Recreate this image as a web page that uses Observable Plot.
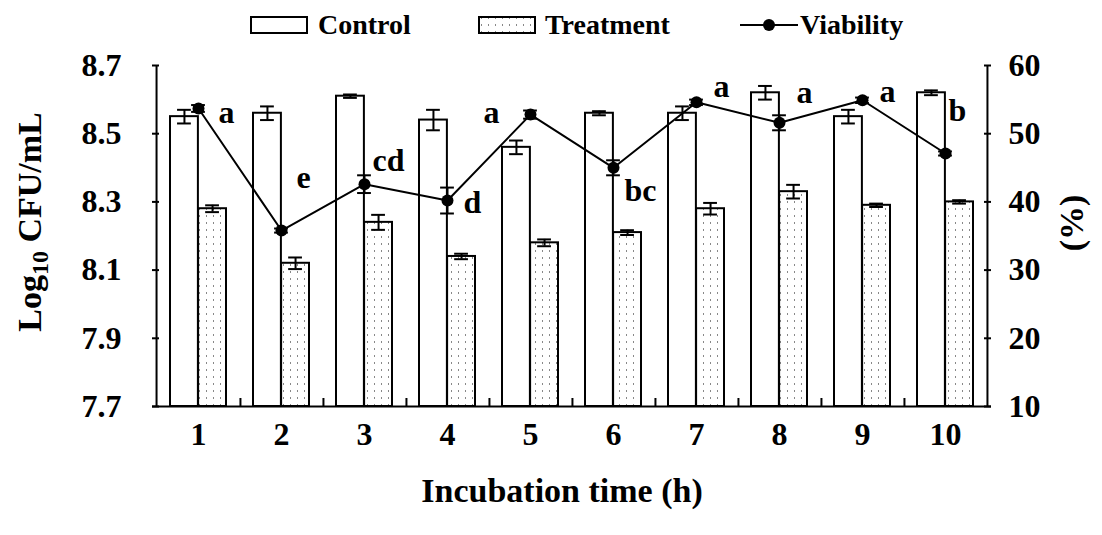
<!DOCTYPE html>
<html><head><meta charset="utf-8">
<script src="https://cdn.jsdelivr.net/npm/d3@7"></script>
<script src="https://cdn.jsdelivr.net/npm/@observablehq/plot@0.6"></script>
<style>
html,body{margin:0;padding:0;background:#fff;}
body{font-family:"Liberation Serif","Times New Roman",serif;font-weight:bold;color:#000;width:1102px;height:535px;overflow:hidden;}
#legend{position:relative;height:45px;width:1102px;}
.item{position:absolute;top:2px;height:45px;display:flex;align-items:center;font-size:28px;white-space:nowrap;}
.item svg{display:block;}
</style></head><body>
<div id="legend"></div>
<div id="chart"></div>
<script>
// ---- data ----
const hours = ["1","2","3","4","5","6","7","8","9","10"];
const control      = [8.55, 8.56, 8.61, 8.54, 8.46, 8.56, 8.56, 8.62, 8.55, 8.62];
const controlErr   = [0.02, 0.02, 0.005, 0.03, 0.02, 0.006, 0.02, 0.02, 0.02, 0.007];
const treatment    = [8.28, 8.12, 8.24, 8.14, 8.18, 8.21, 8.28, 8.33, 8.29, 8.30];
const treatmentErr = [0.01, 0.017, 0.022, 0.008, 0.01, 0.007, 0.017, 0.02, 0.005, 0.005];
const viability    = [53.7, 35.8, 42.6, 40.2, 52.8, 45.0, 54.6, 51.6, 54.9, 47.1];
const viabilityErr = [0.5, 0.3, 1.3, 1.9, 0.6, 1.1, 0.4, 1.1, 0.4, 0.3];
const letters      = ["a","e","cd","d","a","bc","a","a","a","b"];
const leftTicks  = [7.7, 7.9, 8.1, 8.3, 8.5, 8.7];
const rightTicks = [10, 20, 30, 40, 50, 60];
const seriesNames = ["Control", "Treatment", "Viability"];
const xTitle = "Incubation time (h)";
const yTitle = "Log10 CFU/mL";
const y2Title = "(%)";

// ---- layout (annotation offsets in px) ----
const letterDx = [28, 22, 24, 25, -39, 27, 25, 25, 25, 12];
const letterDy = [4, -53, -23, 2, -2, 23, -16, -30, -9, -43];

// right (%) scale mapped onto left scale
const toLeft = v => 7.7 + (v - 10) / 50;
const fromLeft = y => 10 + (y - 7.7) * 50;

const rows = hours.map((h, i) => ({
  hour: h, control: control[i], cErr: controlErr[i],
  treatment: treatment[i], tErr: treatmentErr[i],
  via: viability[i], vErr: viabilityErr[i], letter: letters[i], i
}));

const W = 1102, H = 490;
const mL = 152, mR = 111, mT = 20, mB = 129;
const innerW = W - mL - mR, innerH = H - mT - mB;
const step = innerW / hours.length;
const bw = step * 0.67, half = bw / 2, cap = 7;
const font = '"Liberation Serif","Times New Roman",serif';

const pattern = `<defs><pattern id="dots" width="7" height="7" patternUnits="userSpaceOnUse">
<rect width="7" height="7" fill="#fff"/><rect x="3" y="2" width="1" height="2" fill="#888"/></pattern></defs>`;

const letterMarks = rows.map((d, i) => Plot.text([d], {
  x: "hour", y: r => toLeft(r.via), text: "letter",
  dx: letterDx[i], dy: letterDy[i], fontSize: 32, fontWeight: "bold", fill: "#000"
}));

const chart = Plot.plot({
  width: W, height: H,
  marginLeft: mL, marginRight: mR, marginTop: mT, marginBottom: mB,
  style: {fontFamily: font, fontWeight: "bold", fontSize: "32px", color: "#000", background: "#fff", overflow: "visible"},
  x: {type: "band", domain: hours, paddingInner: 0.33, paddingOuter: 0.165},
  y: {domain: [7.7, 8.7]},
  marks: [
    // bars
    Plot.barY(rows, {x: "hour", y1: 7.7, y2: "control", insetRight: half, fill: "#fff", stroke: "#000", strokeWidth: 2}),
    Plot.barY(rows, {x: "hour", y1: 7.7, y2: "treatment", insetLeft: half, fill: "url(#dots)", stroke: "#000", strokeWidth: 2}),
    // control error bars
    Plot.ruleX(rows, {x: "hour", y1: d => d.control - d.cErr, y2: d => d.control + d.cErr, dx: -half / 2, stroke: "#000", strokeWidth: 2}),
    Plot.tickY(rows, {x: "hour", y: d => d.control + d.cErr, insetLeft: half / 2 - cap, insetRight: bw - half / 2 - cap, stroke: "#000", strokeWidth: 2}),
    Plot.tickY(rows, {x: "hour", y: d => d.control - d.cErr, insetLeft: half / 2 - cap, insetRight: bw - half / 2 - cap, stroke: "#000", strokeWidth: 2}),
    // treatment error bars
    Plot.ruleX(rows, {x: "hour", y1: d => d.treatment - d.tErr, y2: d => d.treatment + d.tErr, dx: half / 2, stroke: "#000", strokeWidth: 2}),
    Plot.tickY(rows, {x: "hour", y: d => d.treatment + d.tErr, insetLeft: 1.5 * half - cap, insetRight: half / 2 - cap, stroke: "#000", strokeWidth: 2}),
    Plot.tickY(rows, {x: "hour", y: d => d.treatment - d.tErr, insetLeft: 1.5 * half - cap, insetRight: half / 2 - cap, stroke: "#000", strokeWidth: 2}),
    // frame
    Plot.ruleY([7.7], {stroke: "#000", strokeWidth: 2}),
    Plot.ruleX([hours[0]], {x: d => d, dx: -step / 2, stroke: "#000", strokeWidth: 2}),
    Plot.ruleX([hours[hours.length - 1]], {x: d => d, dx: step / 2, stroke: "#000", strokeWidth: 2}),
    // inward ticks
    Plot.tickY(leftTicks, {y: d => d, insetRight: innerW - 7, stroke: "#000", strokeWidth: 2}),
    Plot.tickY(rightTicks.map(toLeft), {y: d => d, insetLeft: innerW - 7, stroke: "#000", strokeWidth: 2}),
    Plot.ruleX(hours.slice(0, -1), {x: d => d, dx: step / 2, insetTop: innerH - 8, stroke: "#000", strokeWidth: 2}),
    // viability
    Plot.ruleX(rows, {x: "hour", y1: d => toLeft(d.via - d.vErr), y2: d => toLeft(d.via + d.vErr), stroke: "#000", strokeWidth: 2}),
    Plot.tickY(rows, {x: "hour", y: d => toLeft(d.via + d.vErr), insetLeft: half - cap, insetRight: half - cap, stroke: "#000", strokeWidth: 2}),
    Plot.tickY(rows, {x: "hour", y: d => toLeft(d.via - d.vErr), insetLeft: half - cap, insetRight: half - cap, stroke: "#000", strokeWidth: 2}),
    Plot.line(rows, {x: "hour", y: d => toLeft(d.via), stroke: "#000", strokeWidth: 2}),
    Plot.dot(rows, {x: "hour", y: d => toLeft(d.via), r: 6, fill: "#000"}),
    ...letterMarks,
    // axes
    Plot.axisX({anchor: "bottom", tickSize: 0, tickPadding: 16, fontSize: 32, label: null}),
    Plot.axisY(leftTicks, {anchor: "left", tickSize: 0, tickPadding: 31, fontSize: 32, label: null, tickFormat: d => d.toFixed(1)}),
    Plot.axisY(rightTicks.map(toLeft), {anchor: "right", tickSize: 0, tickPadding: 17, fontSize: 32, label: null, tickFormat: d => String(Math.round(fromLeft(d)))}),
    // titles
    Plot.text([xTitle], {frameAnchor: "bottom", dx: -10, dy: 95, fontSize: 34, fontWeight: "bold"}),
    Plot.text([yTitle], {frameAnchor: "left", textAnchor: "middle", dx: -122, dy: -14, rotate: -90, fontSize: 34, fontWeight: "bold"}),
    Plot.text([y2Title], {frameAnchor: "right", textAnchor: "middle", dx: 81, dy: -13, rotate: -90, fontSize: 34, fontWeight: "bold"})
  ]
});
chart.insertAdjacentHTML("afterbegin", pattern);
// subscript for Log10
chart.querySelectorAll("text").forEach(t => {
  if (t.textContent === yTitle) {
    t.textContent = "";
    const ns = "http://www.w3.org/2000/svg";
    const a = document.createElementNS(ns, "tspan"); a.textContent = "Log";
    const b = document.createElementNS(ns, "tspan"); b.textContent = "10"; b.setAttribute("font-size", "24"); b.setAttribute("dy", "7");
    const c = document.createElementNS(ns, "tspan"); c.textContent = " CFU/mL"; c.setAttribute("dy", "-7");
    t.append(a, b, c);
  }
});
document.getElementById("chart").append(chart);

// ---- legend ----
const legend = document.getElementById("legend");
const items = [
  {left: 250, icon: `<svg width="58" height="20"><rect x="1" y="2" width="56" height="16" fill="#fff" stroke="#000" stroke-width="2"/></svg>`, gap: 10},
  {left: 478, icon: `<svg width="58" height="20">${pattern}<rect x="1" y="2" width="56" height="16" fill="url(#dots)" stroke="#000" stroke-width="2"/></svg>`, gap: 9},
  {left: 740, icon: `<svg width="58" height="20"><line x1="0" x2="58" y1="10" y2="10" stroke="#000" stroke-width="2"/><circle cx="29" cy="10" r="6" fill="#000"/></svg>`, gap: 2}
];
items.forEach((it, i) => {
  const div = document.createElement("div");
  div.className = "item";
  div.style.left = it.left + "px";
  div.innerHTML = it.icon + `<span style="margin-left:${it.gap}px">${seriesNames[i]}</span>`;
  legend.append(div);
});
</script>
</body></html>
